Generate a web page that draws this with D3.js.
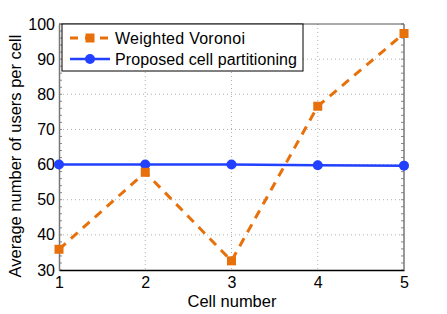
<!DOCTYPE html>
<html><head><meta charset="utf-8">
<script src="https://cdn.jsdelivr.net/npm/d3@7"></script>
<style>body{margin:0;background:#fff;} text{font-family:"Liberation Sans",Arial,sans-serif;}</style>
</head><body>
<svg id="c" width="447" height="314"></svg>
<script>
const cells = [1, 2, 3, 4, 5];
const voronoi = [35.9, 57.8, 32.6, 76.6, 97.3];
const proposed = [60, 60, 60, 59.8, 59.7];
const xTicks = [1, 2, 3, 4, 5];
const yTicks = [30, 40, 50, 60, 70, 80, 90, 100];
const seriesNames = ["Weighted Voronoi", "Proposed cell partitioning"];

const svg = d3.select("#c");
const L = 59, R = 404, T = 24, B = 270;
const x = d3.scaleLinear().domain([1, 5]).range([L, R]);
const y = d3.scaleLinear().domain([30, 100]).range([B, T]);

// grid
const g = svg.append("g");
g.selectAll(".gx").data(xTicks.slice(1, -1)).join("line")
  .attr("x1", d => x(d)).attr("x2", d => x(d)).attr("y1", T).attr("y2", B)
  .attr("stroke", "#b0b0b0").attr("stroke-width", 1).attr("stroke-dasharray", "1,3");
g.selectAll(".gy").data(yTicks.slice(1, -1)).join("line")
  .attr("x1", L).attr("x2", R).attr("y1", d => y(d)).attr("y2", d => y(d))
  .attr("stroke", "#b0b0b0").attr("stroke-width", 1).attr("stroke-dasharray", "1,3");

// minor ticks
const minor = d3.range(30, 100.01, 2);
g.selectAll(".ml").data(minor).join("line")
  .attr("x1", L).attr("x2", L + 3).attr("y1", d => y(d)).attr("y2", d => y(d))
  .attr("stroke", "#888").attr("stroke-width", 1);
g.selectAll(".mr").data(minor).join("line")
  .attr("x1", R - 3).attr("x2", R).attr("y1", d => y(d)).attr("y2", d => y(d))
  .attr("stroke", "#888").attr("stroke-width", 1);

// axes
const xAxis = svg.append("g").attr("transform", `translate(0,${B})`)
  .call(d3.axisBottom(x).tickValues(xTicks).tickFormat(d3.format("d")).tickSize(0).tickPadding(7));
xAxis.select(".domain").attr("stroke", "#000").attr("stroke-width", 1.5);
xAxis.selectAll("text").attr("font-size", 16).attr("fill", "#000");
const yAxis = svg.append("g").attr("transform", `translate(${L},0)`)
  .call(d3.axisLeft(y).tickValues(yTicks).tickSize(0).tickPadding(4));
yAxis.select(".domain").attr("stroke", "#777").attr("stroke-width", 1.5);
yAxis.selectAll("text").attr("font-size", 16).attr("fill", "#000");
// top and right frame
svg.append("line").attr("x1", L).attr("x2", R).attr("y1", T).attr("y2", T).attr("stroke", "#555").attr("stroke-width", 1.2);
svg.append("line").attr("x1", R).attr("x2", R).attr("y1", T).attr("y2", B).attr("stroke", "#777").attr("stroke-width", 1.5);

const orange = "#e8700a", blue = "#2140ff";
const line = (arr) => d3.line().x((d, i) => x(cells[i])).y(d => y(d))(arr);

svg.append("path").attr("d", line(proposed)).attr("fill", "none").attr("stroke", blue).attr("stroke-width", 2.5);
svg.selectAll(".pc").data(proposed).join("circle")
  .attr("cx", (d, i) => x(cells[i])).attr("cy", d => y(d)).attr("r", 5).attr("fill", blue);

svg.append("path").attr("d", line(voronoi)).attr("fill", "none").attr("stroke", orange)
  .attr("stroke-width", 3).attr("stroke-dasharray", "9,7");
svg.selectAll(".vs").data(voronoi).join("rect")
  .attr("x", (d, i) => x(cells[i]) - 4.5).attr("y", d => y(d) - 4.5).attr("width", 9).attr("height", 9).attr("fill", orange);

// legend
const lg = svg.append("g");
lg.append("rect").attr("x", 62).attr("y", 24).attr("width", 241).attr("height", 47)
  .attr("fill", "#fff").attr("stroke", "#000").attr("stroke-width", 1);
lg.append("line").attr("x1", 70).attr("x2", 110).attr("y1", 38).attr("y2", 38)
  .attr("stroke", orange).attr("stroke-width", 3).attr("stroke-dasharray", "8,7");
lg.append("rect").attr("x", 85.5).attr("y", 33.5).attr("width", 9).attr("height", 9).attr("fill", orange);
lg.append("line").attr("x1", 70).attr("x2", 110).attr("y1", 59).attr("y2", 59)
  .attr("stroke", blue).attr("stroke-width", 2.5);
lg.append("circle").attr("cx", 90).attr("cy", 59).attr("r", 5).attr("fill", blue);
lg.append("text").attr("x", 115).attr("y", 44).attr("font-size", 16).attr("textLength", 130).text(seriesNames[0]);
lg.append("text").attr("x", 115).attr("y", 65).attr("font-size", 16).attr("textLength", 182).text(seriesNames[1]);

svg.append("text").attr("x", 232).attr("y", 307).attr("text-anchor", "middle").attr("font-size", 16.5).text("Cell number");
svg.append("text").attr("transform", `translate(21,${(T + B) / 2 + 9}) rotate(-90)`).attr("text-anchor", "middle")
  .attr("font-size", 16.5).text("Average number of users per cell");
</script>
</body></html>
